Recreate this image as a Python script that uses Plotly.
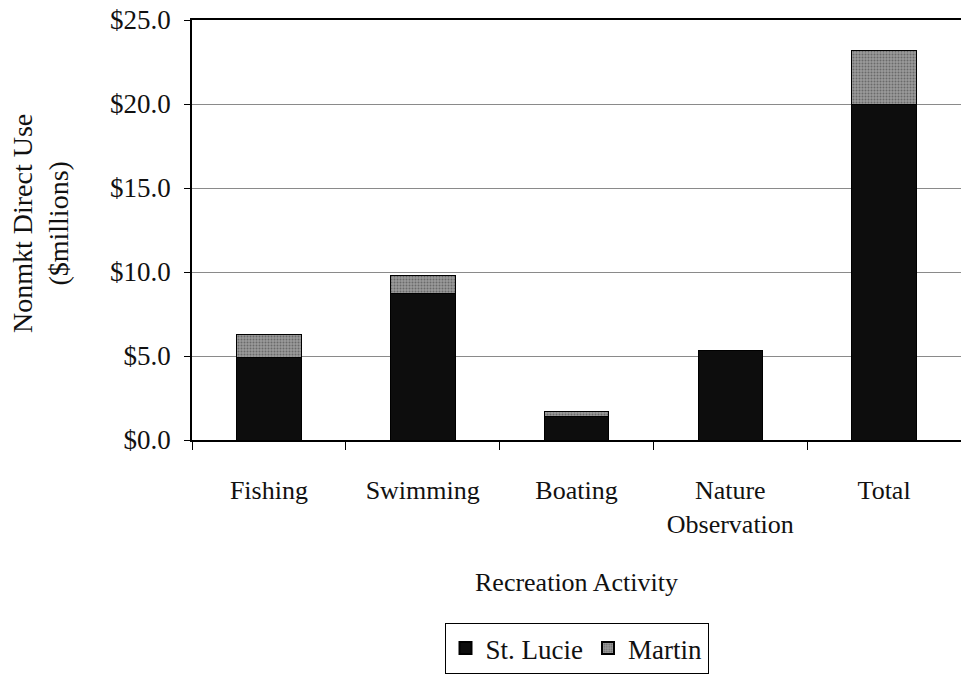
import plotly.graph_objects as go

categories = ["Fishing", "Swimming", "Boating", "Nature<br>Observation", "Total"]
st_lucie = [4.9, 8.7, 1.4, 5.3, 20.0]
martin = [1.4, 1.1, 0.3, 0.0, 3.2]
y_ticks = [0, 5, 10, 15, 20, 25]
y_tick_text = ["$0.0", "$5.0", "$10.0", "$15.0", "$20.0", "$25.0"]

FONT = "Liberation Serif"

fig = go.Figure()
fig.add_trace(go.Bar(
    x=categories, y=st_lucie, name="St. Lucie",
    marker=dict(color="#0d0d0d", line=dict(color="#000000", width=1)),
))
fig.add_trace(go.Bar(
    x=categories, y=martin, name="Martin",
    marker=dict(color="#8c8c8c", line=dict(color="#000000", width=1),
                pattern=dict(shape=".", fgcolor="#3a3a3a", bgcolor="#9a9a9a", size=3, solidity=0.35)),
))

fig.update_layout(
    barmode="stack",
    bargap=0.58,
    width=961, height=674,
    margin=dict(l=192, r=0, t=20, b=231),
    paper_bgcolor="white", plot_bgcolor="white",
    font=dict(family=FONT, size=26, color="#111111"),
    showlegend=True,
    legend=dict(
        orientation="h", x=0.5, xanchor="center", y=-0.437, yanchor="top",
        bordercolor="#000000", borderwidth=1, font=dict(family=FONT, size=27),
        itemwidth=30, itemsizing="constant", traceorder="normal",
    ),
    annotations=[
        dict(text="Nonmkt Direct Use<br>($millions)", textangle=-90,
             xref="paper", yref="paper", x=0, y=0.5, xanchor="center", yanchor="middle",
             xshift=-152, yshift=6, showarrow=False, font=dict(family=FONT, size=28)),
        dict(text="Recreation Activity",
             xref="paper", yref="paper", x=0.5, y=0, xanchor="center", yanchor="middle",
             yshift=-142, showarrow=False, font=dict(family=FONT, size=26)),
    ],
)

fig.update_yaxes(
    range=[0, 25], tickvals=y_ticks, ticktext=y_tick_text,
    tickfont=dict(family=FONT, size=27),
    showgrid=True, gridcolor="#8a8a8a", gridwidth=1,
    showline=True, linecolor="#000000", linewidth=1.5,
    ticks="outside", ticklen=6, tickcolor="#000000",
    ticklabelstandoff=8, zeroline=False,
)
fig.update_xaxes(
    showline=True, linecolor="#000000", linewidth=1.5, mirror=True,
    ticks="outside", ticklen=8, tickcolor="#000000", tickson="boundaries",
    tickfont=dict(family=FONT, size=26),
    ticklabelstandoff=26, showgrid=False,
)

fig.write_html("out.html")
